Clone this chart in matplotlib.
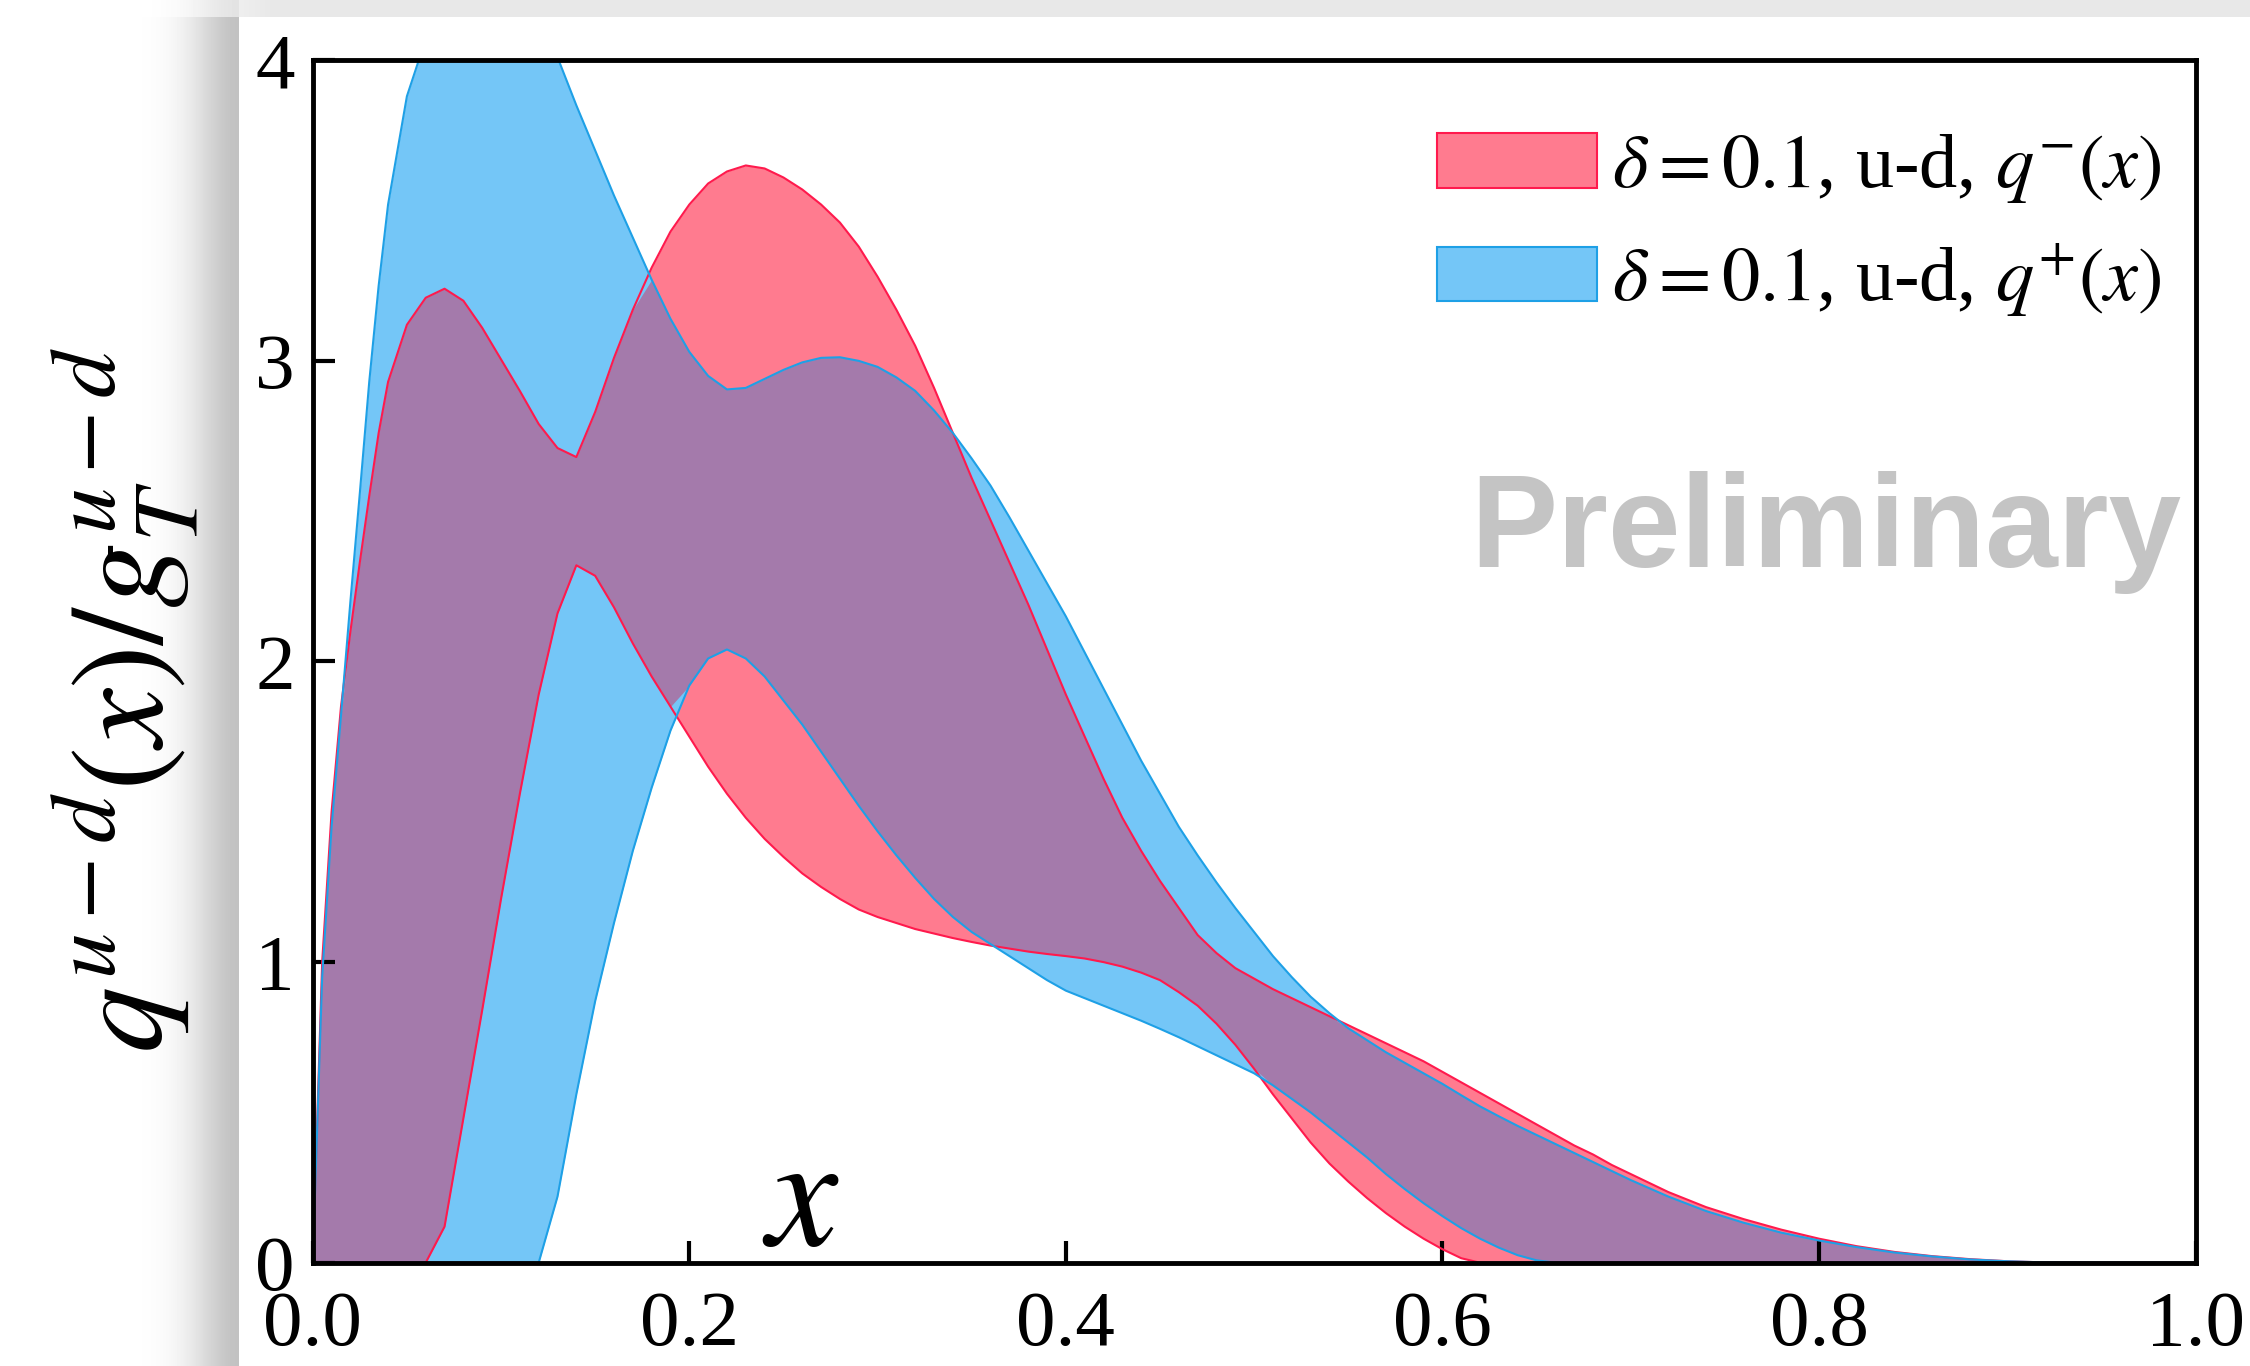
import numpy as np
import matplotlib
matplotlib.use('Agg')
import matplotlib.pyplot as plt
from matplotlib.patches import Patch
from matplotlib.ticker import FormatStrFormatter

plt.rcParams['font.family'] = 'serif'
plt.rcParams['font.serif'] = ['Liberation Serif', 'DejaVu Serif']
plt.rcParams['mathtext.fontset'] = 'stix'

# x grid and the four band edges
x = [0.0, 0.005, 0.01, 0.015, 0.02, 0.025, 0.03, 0.035, 0.04,
     0.05, 0.06, 0.07, 0.08, 0.09, 0.10, 0.11, 0.12, 0.13, 0.14,
     0.15, 0.16, 0.17, 0.18, 0.19, 0.20, 0.21, 0.22, 0.23, 0.24,
     0.25, 0.26, 0.27, 0.28, 0.29, 0.30, 0.31, 0.32, 0.33, 0.34,
     0.35, 0.36, 0.37, 0.38, 0.39, 0.40, 0.41, 0.42, 0.43, 0.44,
     0.45, 0.46, 0.47, 0.48, 0.49, 0.50, 0.51, 0.52, 0.53, 0.54,
     0.55, 0.56, 0.57, 0.58, 0.59, 0.60, 0.61, 0.62, 0.63, 0.64,
     0.65, 0.66, 0.67, 0.68, 0.69, 0.70,
     0.72, 0.74, 0.76, 0.78, 0.80, 0.82, 0.84, 0.86, 0.88, 0.90,
     0.92, 0.95, 1.00]

# q^-(x) band (red)
qm_hi = [0.0, 1.0, 1.5, 1.85, 2.1, 2.33, 2.55, 2.76, 2.93,
         3.12, 3.21, 3.24, 3.20, 3.11, 3.005, 2.90, 2.79, 2.71, 2.68,
         2.83, 3.01, 3.17, 3.31, 3.43, 3.52, 3.59, 3.63, 3.65, 3.64,
         3.61, 3.57, 3.52, 3.46, 3.38, 3.28, 3.17, 3.05, 2.91, 2.76,
         2.61, 2.47, 2.33, 2.19, 2.04, 1.89, 1.75, 1.61, 1.48, 1.37,
         1.27, 1.18, 1.09, 1.03, 0.98, 0.945, 0.91, 0.88, 0.85, 0.82,
         0.79, 0.76, 0.73, 0.70, 0.67, 0.635, 0.60, 0.565, 0.53, 0.495,
         0.46, 0.425, 0.39, 0.36, 0.325, 0.295,
         0.235, 0.185, 0.145, 0.11, 0.08, 0.055, 0.036, 0.022, 0.012, 0.005,
         0.001, 0.0, 0.0]
qm_lo = [0.0, 0.0, 0.0, 0.0, 0.0, 0.0, 0.0, 0.0, 0.0,
         0.0, 0.0, 0.12, 0.48, 0.84, 1.21, 1.56, 1.89, 2.16, 2.32,
         2.285, 2.18, 2.06, 1.95, 1.85, 1.75, 1.65, 1.56, 1.48, 1.41,
         1.35, 1.295, 1.25, 1.21, 1.175, 1.15, 1.13, 1.11, 1.095, 1.08,
         1.067, 1.055, 1.045, 1.035, 1.027, 1.02, 1.012, 1.0, 0.985, 0.965,
         0.94, 0.90, 0.855, 0.795, 0.725, 0.645, 0.56, 0.48, 0.40, 0.33,
         0.27, 0.215, 0.165, 0.12, 0.08, 0.045, 0.015, 0.0, 0.0, 0.0,
         0.0, 0.0, 0.0, 0.0, 0.0, 0.0,
         0.0, 0.0, 0.0, 0.0, 0.0, 0.0, 0.0, 0.0, 0.0, 0.0,
         0.0, 0.0, 0.0]

# q^+(x) band (blue)
qp_hi = [0.0, 0.95, 1.45, 1.82, 2.2, 2.56, 2.93, 3.25, 3.52,
         3.88, 4.07, 4.24, 4.35, 4.40, 4.38, 4.29, 4.16, 4.01, 3.85,
         3.70, 3.55, 3.41, 3.27, 3.14, 3.03, 2.95, 2.905, 2.91, 2.94,
         2.97, 2.995, 3.01, 3.012, 3.0, 2.98, 2.945, 2.90, 2.835, 2.76,
         2.675, 2.585, 2.48, 2.37, 2.26, 2.15, 2.03, 1.91, 1.79, 1.67,
         1.56, 1.45, 1.355, 1.265, 1.18, 1.10, 1.02, 0.95, 0.885, 0.83,
         0.78, 0.74, 0.70, 0.665, 0.63, 0.595, 0.557, 0.52, 0.487, 0.455,
         0.425, 0.395, 0.365, 0.335, 0.305, 0.275,
         0.22, 0.172, 0.133, 0.10, 0.074, 0.052, 0.034, 0.021, 0.011, 0.005,
         0.001, 0.0, 0.0]
qp_lo = [0.0, 0.0, 0.0, 0.0, 0.0, 0.0, 0.0, 0.0, 0.0,
         0.0, 0.0, 0.0, 0.0, 0.0, 0.0, 0.0, 0.0, 0.22, 0.56,
         0.87, 1.13, 1.37, 1.58, 1.77, 1.92, 2.01, 2.04, 2.01, 1.95,
         1.87, 1.79, 1.70, 1.61, 1.52, 1.435, 1.355, 1.28, 1.21, 1.15,
         1.10, 1.06, 1.02, 0.98, 0.94, 0.905, 0.88, 0.855, 0.83, 0.805,
         0.778, 0.75, 0.72, 0.69, 0.66, 0.63, 0.59, 0.545, 0.50, 0.45,
         0.40, 0.35, 0.295, 0.245, 0.198, 0.155, 0.115, 0.08, 0.05, 0.025,
         0.008, 0.0, 0.0, 0.0, 0.0, 0.0,
         0.0, 0.0, 0.0, 0.0, 0.0, 0.0, 0.0, 0.0, 0.0, 0.0,
         0.0, 0.0, 0.0]

labels = [r'$\delta = 0.1$, u-d, $q^{-}(x)$', r'$\delta = 0.1$, u-d, $q^{+}(x)$']
xticks = [0.0, 0.2, 0.4, 0.6, 0.8, 1.0]
yticks = [0, 1, 2, 3, 4]

red_fill, red_edge = '#ff7b8f', '#ff1a4d'
blue_fill, blue_edge = '#74c6f7', '#1ea0e6'

fig = plt.figure(figsize=(22.5, 13.66), dpi=100)

# grey drop shadow of the screenshot on the left and top
H, W = 1366, 2250
xx = np.arange(W)[None, :]
yy = np.arange(H)[:, None]
left = np.where(xx < 239, 0.24 * np.exp(-((239 - xx) / 48.0) ** 2), 0.0)
left = left * np.where(yy < 17, 0.45, 1.0)
top = np.where(yy < 17, 0.09 * np.clip((xx - 150) / 120.0, 0, 1), 0.0)
bg = 1 - np.maximum(left, top)
bgax = fig.add_axes([0, 0, 1, 1])
bgax.imshow(bg, cmap='gray', vmin=0, vmax=1, aspect='auto', interpolation='bilinear')
bgax.axis('off')

ax = fig.add_axes([0.139, 0.0756, 0.8368, 0.8803])

x = np.array(x)
ax.fill_between(x, qm_lo, qm_hi, color=red_fill, lw=0)
ax.fill_between(x, qp_lo, qp_hi, color=blue_fill, lw=0)
for c in (qm_lo, qm_hi):
    ax.plot(x, c, color=red_edge, lw=1.5)
for c in (qp_lo, qp_hi):
    ax.plot(x, c, color=blue_edge, lw=1.5)

# overlap of the two bands
lo = np.maximum(qm_lo, qp_lo)
hi = np.minimum(qm_hi, qp_hi)
ax.fill_between(x, lo, hi, where=hi > lo, interpolate=True,
                color='#ad6d9e', alpha=0.85, lw=0)

ax.set_xlim(0, 1)
ax.set_ylim(0, 4)
ax.set_xticks(xticks)
ax.set_yticks(yticks)
ax.xaxis.set_major_formatter(FormatStrFormatter('%.1f'))
ax.tick_params(direction='in', length=16, width=3, labelsize=57,
               top=False, right=False)
ax.tick_params(axis='x', pad=20)
ax.tick_params(axis='y', pad=13)
for s in ax.spines.values():
    s.set_linewidth(3.5)

ax.text(0.259, 0.19, r'$x$', fontsize=115, ha='center', va='center')
fig.text(0.0557, 0.488, r'$q^{u-d}(x)/g_T^{u-d}$', rotation=90,
         fontsize=95, ha='center', va='center')

ax.text(0.9923, 0.5786, 'Preliminary', transform=ax.transAxes, ha='right',
        va='baseline', fontsize=94, fontweight='bold', color='#c4c4c4',
        family='Liberation Sans')

handles = [Patch(facecolor=red_fill, edgecolor=red_edge, lw=1.5),
           Patch(facecolor=blue_fill, edgecolor=blue_edge, lw=1.5)]
ax.legend(handles, labels, loc='upper right', bbox_to_anchor=(0.982, 0.94),
          frameon=False, fontsize=55, handlelength=2.1, handleheight=0.72,
          handletextpad=0.2, labelspacing=0.47, borderpad=0, borderaxespad=0)

fig.savefig('out.png', dpi=100)
